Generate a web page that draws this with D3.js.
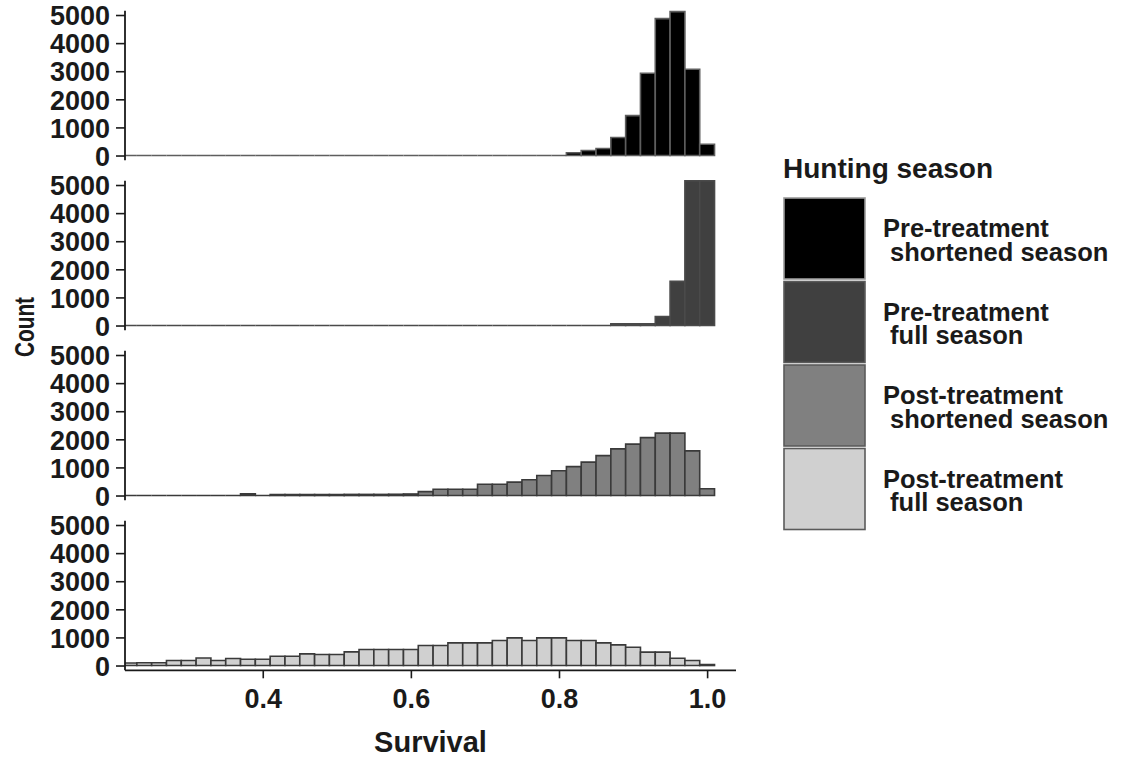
<!DOCTYPE html>
<html>
<head>
<meta charset="utf-8">
<script src="https://cdn.jsdelivr.net/npm/d3@7"></script>
<style>
  html, body { margin: 0; padding: 0; background: #ffffff; }
  svg text { font-family: "Liberation Sans", Arial, sans-serif; font-weight: bold; fill: #1a1a1a; }
</style>
</head>
<body>
<svg id="chart" width="1126" height="757"></svg>
<script>
// Survival bins (centres, width 0.02)
const binCenters = [0.22, 0.24, 0.26, 0.28, 0.30, 0.32, 0.34, 0.36, 0.38, 0.40,
                    0.42, 0.44, 0.46, 0.48, 0.50, 0.52, 0.54, 0.56, 0.58, 0.60,
                    0.62, 0.64, 0.66, 0.68, 0.70, 0.72, 0.74, 0.76, 0.78, 0.80,
                    0.82, 0.84, 0.86, 0.88, 0.90, 0.92, 0.94, 0.96, 0.98, 1.00];
const binWidth = 0.02;

// Counts per bin for each hunting season
const preShortened = [0, 0, 0, 0, 0, 0, 0, 0, 0, 0,
                      0, 0, 0, 0, 0, 0, 0, 0, 0, 0,
                      0, 0, 0, 0, 0, 0, 0, 0, 0, 0,
                      100, 180, 250, 640, 1420, 2930, 4870, 5120, 3070, 400];
const preFull = [0, 0, 0, 0, 0, 0, 0, 0, 0, 0,
                 0, 0, 0, 0, 0, 0, 0, 0, 0, 0,
                 0, 0, 0, 0, 0, 0, 0, 0, 0, 0,
                 0, 0, 0, 60, 60, 60, 320, 1570, 5150, 5150];
const postShortened = [0, 0, 0, 0, 0, 0, 0, 0, 60, 0,
                       35, 35, 35, 35, 35, 40, 40, 40, 45, 55,
                       140, 225, 225, 225, 400, 400, 475, 560, 710, 880,
                       1030, 1190, 1420, 1660, 1830, 2060, 2220, 2220, 1590, 240];
const postFull = [90, 100, 100, 180, 180, 270, 180, 250, 225, 225,
                  330, 330, 415, 390, 390, 485, 570, 570, 570, 570,
                  710, 710, 805, 805, 805, 890, 985, 890, 985, 985,
                  890, 890, 805, 735, 650, 475, 475, 260, 180, 35];

const seasonLabels = [["Pre-treatment", " shortened season"],
                      ["Pre-treatment", " full season"],
                      ["Post-treatment", " shortened season"],
                      ["Post-treatment", " full season"]];
const seasonFills = ["#000000", "#404040", "#808080", "#d0d0d0"];
const seasonStrokes = ["#5e5e5e", "#4a4a4a", "#3a3a3a", "#3a3a3a"];
const countTicks = [0, 1000, 2000, 3000, 4000, 5000];
const survivalTicks = [0.4, 0.6, 0.8, 1.0];

const seriesList = [preShortened, preFull, postShortened, postFull];

const svg = d3.select("#chart");

// Layout
const plotLeft = 125, plotRight = 736;
const panelTop0 = 10.8, panelStep = 170, panelHeight = 149.5;
const yMax = 5150;

const x = d3.scaleLinear().domain([0.214, 1.039]).range([plotLeft, plotRight]);

svg.append("defs").append("clipPath").attr("id", "plotClip")
  .append("rect").attr("x", plotLeft).attr("y", 0)
  .attr("width", plotRight - plotLeft).attr("height", 757);

seriesList.forEach((counts, i) => {
  const top = panelTop0 + i * panelStep;
  const y = d3.scaleLinear().domain([-170, yMax]).range([top + panelHeight, top]);
  const g = svg.append("g");

  // bars (drawn as paths so empty bins still show as a flat outline)
  const bars = g.append("g").attr("clip-path", "url(#plotClip)");
  bars.selectAll("path").data(binCenters.map((c, k) => ({c, v: counts[k]})))
    .join("path")
    .attr("d", d => {
      const x0 = x(d.c - binWidth / 2), x1 = x(d.c + binWidth / 2);
      const y0 = y(0), y1 = y(Math.min(d.v, yMax));
      return `M${x0},${y0}V${y1}H${x1}V${y0}Z`;
    })
    .attr("fill", seasonFills[i])
    .attr("stroke", seasonStrokes[i])
    .attr("stroke-width", 1.6);

  // y axis
  const yAxis = d3.axisLeft(y).tickValues(countTicks).tickFormat(d3.format("d"))
    .tickSize(9).tickPadding(6);
  const ya = g.append("g").attr("transform", `translate(${plotLeft},0)`).call(yAxis);
  ya.select(".domain").remove();
  ya.selectAll(".tick line").attr("stroke", "#1a1a1a").attr("stroke-width", 1.6);
  ya.selectAll(".tick text").attr("font-size", 27).attr("dy", "0.36em")
    .style("font-family", "'Liberation Sans', Arial, sans-serif").style("font-weight", "bold")
    .attr("fill", "#1a1a1a");
  g.append("line").attr("x1", plotLeft).attr("x2", plotLeft)
    .attr("y1", top).attr("y2", top + panelHeight)
    .attr("stroke", "#1a1a1a").attr("stroke-width", 1.8);

  // x axis on the bottom panel only
  if (i === seriesList.length - 1) {
    const xAxis = d3.axisBottom(x).tickValues(survivalTicks).tickFormat(d3.format(".1f"))
      .tickSize(8).tickPadding(11);
    const xa = g.append("g").attr("transform", `translate(0,${top + panelHeight})`).call(xAxis);
    xa.select(".domain").attr("stroke", "#1a1a1a").attr("stroke-width", 1.8)
      .attr("d", `M${plotLeft},0H${plotRight}`);
    xa.selectAll(".tick line").attr("stroke", "#1a1a1a").attr("stroke-width", 1.6);
    xa.selectAll(".tick text").attr("font-size", 27)
      .style("font-family", "'Liberation Sans', Arial, sans-serif").style("font-weight", "bold")
      .attr("fill", "#1a1a1a");
  }
});

// axis titles
svg.append("text").attr("x", (plotLeft + plotRight) / 2).attr("y", 752)
  .attr("text-anchor", "middle").attr("font-size", 29).text("Survival");
svg.append("text")
  .attr("transform", "translate(34,327) rotate(-90)")
  .attr("text-anchor", "middle").attr("font-size", 27)
  .attr("textLength", 60).attr("lengthAdjust", "spacingAndGlyphs")
  .text("Count");

// legend
const legend = svg.append("g");
legend.append("text").attr("x", 783).attr("y", 178).attr("font-size", 28).text("Hunting season");
seasonLabels.forEach((lab, i) => {
  const ky = 198 + i * 83.5;
  legend.append("rect").attr("x", 784).attr("y", ky).attr("width", 81).attr("height", 81)
    .attr("fill", seasonFills[i]).attr("stroke", i === 0 ? "#9a9a9a" : "#5a5a5a").attr("stroke-width", 1.6);
  const t = legend.append("text").attr("x", 883).attr("y", ky + 39).attr("font-size", 25.5);
  t.append("tspan").attr("x", 883).text(lab[0]);
  t.append("tspan").attr("x", 883).attr("dy", 23.5).attr("xml:space", "preserve").style("white-space", "pre").text(lab[1]);
});
</script>
</body>
</html>
